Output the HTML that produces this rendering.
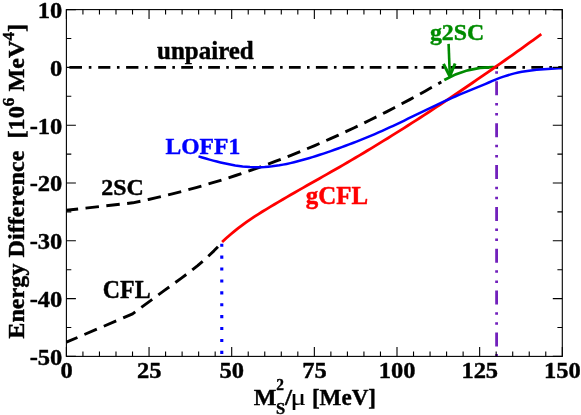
<!DOCTYPE html>
<html><head><meta charset="utf-8"><title>Energy Difference</title>
<style>
html,body{margin:0;padding:0;background:#fff;}
body{width:581px;height:415px;overflow:hidden;}
svg{display:block;will-change:transform;}
text{font-family:'Liberation Serif',serif;font-weight:bold;font-size:24px;fill:#000;stroke:#000;stroke-width:0.42px;stroke-linejoin:round;paint-order:stroke;}
.c{fill:none;stroke-linecap:butt;stroke-linejoin:round;}
</style></head><body>
<svg width="581" height="415" viewBox="0 0 581 415">
<rect x="0" y="0" width="581" height="415" fill="#fff"/>
<!-- curves -->
<path class="c" d="M69.4 67.4H81.98M88.79 67.4H91.39M98.2 67.4H110.38M116.94 67.4H119.54M126.1 67.4H138.41M145.06 67.4H147.66M154.3 67.4H166.06M172.34 67.4H174.94M181.23 67.4H192.99M199.28 67.4H201.88M208.16 67.4H219.92M226.21 67.4H228.81M235.09 67.4H246.85M253.13 67.4H255.73M262.02 67.4H273.78M280.07 67.4H282.67M288.95 67.4H300.71M307 67.4H309.6M315.88 67.4H327.64M333.93 67.4H336.53M342.81 67.4H354.57M360.86 67.4H363.46M369.74 67.4H381.5M387.79 67.4H390.39M396.67 67.4H408.43M414.72 67.4H417.32M423.6 67.4H435.36M441.65 67.4H444.25M450.53 67.4H462.29M468.57 67.4H471.18M477.46 67.4H489.22M495.5 67.4H498.11M504.39 67.4H516.15M522.43 67.4H525.03M531.32 67.4H543.08M549.36 67.4H551.96M558.25 67.4H562.3" stroke="#000" stroke-width="2.6"/>
<path class="c" d="M66.4 210.3L132.8 202.81L140.71 201.18L148.62 199.48L156.53 197.69L164.44 195.83L172.35 193.89L180.26 191.86L188.17 189.76L196.08 187.58L203.99 185.32L211.9 182.98L219.81 180.57L227.72 178.07L235.63 175.5L243.54 172.85L251.45 170.13L259.36 167.32L267.27 164.44L275.18 161.48L283.09 158.45L291.01 155.34L298.92 152.15L306.83 148.89L314.74 145.55L322.65 142.13L330.56 138.64L338.47 135.07L346.38 131.43L354.29 127.71L362.2 123.92L370.11 120.05L378.02 116.11L385.93 112.09L393.84 108L401.75 103.84L409.66 99.6L417.57 95.29L425.48 90.91L433.39 86.45L441.3 81.92" stroke="#000" stroke-width="2.9" stroke-dasharray="13.5 7.44" stroke-dashoffset="1.7"/>
<path class="c" d="M66.4 342.2L132.6 313.9L140.74 307.88L148.87 301.89L157.01 295.91L165.15 289.95L173.28 284.02L181.42 278.11L189.55 272.11L197.69 265.6L205.83 258.51L213.96 250.84L222.1 242.6" stroke="#000" stroke-width="2.9" stroke-dasharray="13.5 7.59" stroke-dashoffset="1.5"/>
<path class="c" d="M221.78 243.7V356.4" stroke="#0000ff" stroke-width="3.1" stroke-dasharray="3.1 8.8"/>
<path class="c" d="M496.6 67.4V356.4" stroke="#7221bc" stroke-width="2.8" stroke-dasharray="14 7.62 2.5 7.62 2.5 7.62" stroke-dashoffset="27.96"/>
<path class="c" d="M444.3 79.9Q469.75 66.2 496.4 67.3" stroke="#008b00" stroke-width="2.8"/>
<path class="c" d="M222.1 242.01L226.14 238.26L230.18 234.71L234.22 231.34L238.26 228.14L242.3 225.09L246.34 222.17L250.38 219.38L254.42 216.69L258.46 214.08L262.51 211.55L266.55 209.07L270.59 206.64L274.63 204.23L278.67 201.84L282.71 199.47L286.75 197.12L290.79 194.78L294.83 192.46L298.87 190.15L302.91 187.85L306.95 185.55L310.99 183.26L315.03 180.97L319.07 178.68L323.11 176.39L327.15 174.1L331.19 171.8L335.23 169.49L339.27 167.17L343.32 164.84L347.36 162.49L351.4 160.13L355.44 157.75L359.48 155.36L363.52 152.95L367.56 150.52L371.6 148.09L375.64 145.63L379.68 143.17L383.72 140.68L387.76 138.19L391.8 135.68L395.84 133.15L399.88 130.62L403.92 128.07L407.96 125.5L412 122.92L416.04 120.33L420.08 117.73L424.13 115.11L428.17 112.48L432.21 109.84L436.25 107.18L440.29 104.51L444.33 101.83L448.37 99.14L452.41 96.44L456.45 93.72L460.49 90.99L464.53 88.25L468.57 85.5L472.61 82.74L476.65 79.97L480.69 77.19L484.73 74.39L488.77 71.59L492.81 68.77L496.85 65.94L500.89 63.11L504.94 60.26L508.98 57.4L513.02 54.54L517.06 51.66L521.1 48.78L525.14 45.88L529.18 42.98L533.22 40.06L537.26 37.14L541.3 34.21" stroke="#ff0000" stroke-width="2.8"/>
<path class="c" d="M198.5 156.39L202.17 157.49L205.85 158.55L209.52 159.59L213.2 160.59L216.87 161.54L220.55 162.45L224.22 163.29L227.9 164.07L231.57 164.77L235.25 165.4L238.92 165.93L242.6 166.39L246.27 166.73L249.95 167.01L253.62 167.14L257.3 167.14L260.97 167.13L264.65 167L268.32 166.7L271.99 166.33L275.67 165.84L279.34 165.29L283.02 164.63L286.69 163.9L290.37 163.1L294.04 162.23L297.72 161.3L301.39 160.32L305.07 159.29L308.74 158.22L312.42 157.11L316.09 155.96L319.77 154.79L323.44 153.58L327.12 152.34L330.79 151.07L334.47 149.78L338.14 148.46L341.82 147.13L345.49 145.77L349.16 144.39L352.84 142.98L356.51 141.56L360.19 140.11L363.86 138.63L367.54 137.13L371.21 135.6L374.89 134.04L378.56 132.44L382.24 130.82L385.91 129.16L389.59 127.47L393.26 125.76L396.94 124.03L400.61 122.28L404.29 120.51L407.96 118.74L411.64 116.95L415.31 115.17L418.98 113.38L422.66 111.6L426.33 109.82L430.01 108.05L433.68 106.3L437.36 104.57L441.03 102.85L444.71 101.16L448.38 99.5L452.06 97.86L455.73 96.26L459.41 94.68L463.08 93.12L466.76 91.58L470.43 90.07L474.11 88.56L477.78 87.08L481.46 85.59L485.13 84.06L488.81 82.48L492.48 80.9L496.15 79.37L499.83 77.93L503.5 76.62L507.18 75.46L510.85 74.37L514.53 73.39L518.2 72.54L521.88 71.83L525.55 71.2L529.23 70.64L532.9 70.18L536.58 69.79L540.25 69.45L543.93 69.16L547.6 68.91L551.28 68.69L554.95 68.5L558.63 68.33L562.3 68.2" stroke="#0000ff" stroke-width="2.5"/>
<!-- arrow -->
<path class="c" d="M448.6 43.9L449.8 75" stroke="#008b00" stroke-width="2.6"/><path class="c" d="M443.5 63.9L449.8 76.2L455.1 63.5" stroke="#008b00" stroke-width="3" stroke-linejoin="miter"/>
<!-- frame -->
<rect x="66.4" y="9.6" width="495.9" height="346.8" fill="none" stroke="#000" stroke-width="1.1"/>
<path d="M66.4 356.4V346.9M66.4 9.6V19.1M82.93 356.4V351.5M82.93 9.6V14.5M99.46 356.4V351.5M99.46 9.6V14.5M115.99 356.4V351.5M115.99 9.6V14.5M132.52 356.4V351.5M132.52 9.6V14.5M149.05 356.4V346.9M149.05 9.6V19.1M165.58 356.4V351.5M165.58 9.6V14.5M182.11 356.4V351.5M182.11 9.6V14.5M198.64 356.4V351.5M198.64 9.6V14.5M215.17 356.4V351.5M215.17 9.6V14.5M231.7 356.4V346.9M231.7 9.6V19.1M248.23 356.4V351.5M248.23 9.6V14.5M264.76 356.4V351.5M264.76 9.6V14.5M281.29 356.4V351.5M281.29 9.6V14.5M297.82 356.4V351.5M297.82 9.6V14.5M314.35 356.4V346.9M314.35 9.6V19.1M330.88 356.4V351.5M330.88 9.6V14.5M347.41 356.4V351.5M347.41 9.6V14.5M363.94 356.4V351.5M363.94 9.6V14.5M380.47 356.4V351.5M380.47 9.6V14.5M397 356.4V346.9M397 9.6V19.1M413.53 356.4V351.5M413.53 9.6V14.5M430.06 356.4V351.5M430.06 9.6V14.5M446.59 356.4V351.5M446.59 9.6V14.5M463.12 356.4V351.5M463.12 9.6V14.5M479.65 356.4V346.9M479.65 9.6V19.1M496.18 356.4V351.5M496.18 9.6V14.5M512.71 356.4V351.5M512.71 9.6V14.5M529.24 356.4V351.5M529.24 9.6V14.5M545.77 356.4V351.5M545.77 9.6V14.5M562.3 356.4V346.9M562.3 9.6V19.1M66.4 9.6H75.9M562.3 9.6H552.8M66.4 38.5H71.3M562.3 38.5H557.4M66.4 67.4H75.9M562.3 67.4H552.8M66.4 96.3H71.3M562.3 96.3H557.4M66.4 125.2H75.9M562.3 125.2H552.8M66.4 154.1H71.3M562.3 154.1H557.4M66.4 183H75.9M562.3 183H552.8M66.4 211.9H71.3M562.3 211.9H557.4M66.4 240.8H75.9M562.3 240.8H552.8M66.4 269.7H71.3M562.3 269.7H557.4M66.4 298.6H75.9M562.3 298.6H552.8M66.4 327.5H71.3M562.3 327.5H557.4M66.4 356.4H75.9M562.3 356.4H552.8" stroke="#000" stroke-width="1.1" fill="none"/>
<!-- tick labels -->
<text transform="translate(66.5 378.1) scale(1.02 1.0)" text-anchor="middle">0</text><text transform="translate(149.15 378.1) scale(1.02 1.0)" text-anchor="middle">25</text><text transform="translate(231.8 378.1) scale(1.02 1.0)" text-anchor="middle">50</text><text transform="translate(314.45 378.1) scale(1.02 1.0)" text-anchor="middle">75</text><text transform="translate(397.1 378.1) scale(1.02 1.0)" text-anchor="middle">100</text><text transform="translate(479.75 378.1) scale(1.02 1.0)" text-anchor="middle">125</text><text transform="translate(562.4 378.1) scale(1.02 1.0)" text-anchor="middle">150</text>
<text transform="translate(62.3 17.9) scale(1.02 1.0)" text-anchor="end">10</text><text transform="translate(62.3 75.7) scale(1.02 1.0)" text-anchor="end">0</text><text transform="translate(62.3 133.5) scale(1.02 1.0)" text-anchor="end">-10</text><text transform="translate(62.3 191.3) scale(1.02 1.0)" text-anchor="end">-20</text><text transform="translate(62.3 249.1) scale(1.02 1.0)" text-anchor="end">-30</text><text transform="translate(62.3 306.9) scale(1.02 1.0)" text-anchor="end">-40</text><text transform="translate(62.3 364.7) scale(1.02 1.0)" text-anchor="end">-50</text>
<!-- axis labels -->
<text transform="translate(253.87 404.6) scale(1.0015 1.0)">M</text>
<text transform="translate(276.2 390.3) scale(0.9070 1.0)" style="font-size:17px">2</text>
<text transform="translate(275.89 414.2) scale(0.9702 1.0)" style="font-size:17px">S</text>
<text transform="translate(285.08 404.6) scale(1.0571 1.0)">/</text>
<text transform="translate(290.58 404.6) scale(1.2102 1.0)" style="font-weight:normal;stroke-width:0.15px">μ</text>
<text transform="translate(311.94 404.6) scale(0.9619 1.0)">[MeV]</text>
<text transform="translate(24 338.7) rotate(-90) scale(1.008 1.0)">Energy Difference&#160;&#160;[10<tspan style="font-size:17px" dy="-10">6</tspan><tspan dy="10">&#160;MeV</tspan><tspan style="font-size:17px" dy="-10">4</tspan><tspan dy="10">]</tspan></text>
<!-- annotations -->
<text transform="translate(157.05 59) scale(1.0408 1.02)" style="fill:#000;stroke:#000">unpaired</text>
<text transform="translate(165.47 153.6) scale(0.9852 1.0)" style="fill:#0000ff;stroke:#0000ff">LOFF1</text>
<text transform="translate(101.2 194.8) scale(0.9967 1.0)" style="fill:#000;stroke:#000">2SC</text>
<text transform="translate(102.84 297.5) scale(0.9949 1.03)" style="fill:#000;stroke:#000">CFL</text>
<text transform="translate(305.81 204.3) scale(1.0389 1.06)" style="fill:#ff0000;stroke:#ff0000">gCFL</text>
<text transform="translate(429.94 39.6) scale(0.9930 1.0)" style="fill:#008b00;stroke:#008b00">g2SC</text>
</svg>
</body></html>
